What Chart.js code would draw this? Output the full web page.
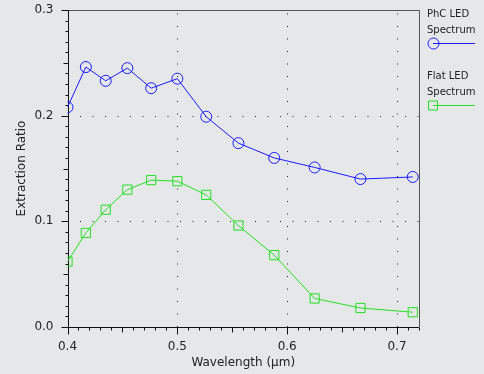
<!DOCTYPE html>
<html>
<head>
<meta charset="utf-8">
<script src="https://cdn.jsdelivr.net/npm/chart.js@4/dist/chart.umd.min.js"></script>
<style>
  html, body { margin: 0; padding: 0; background: #e6e7e9; }
  #wrap { width: 484px; height: 374px; }
</style>
</head>
<body>
<div id="wrap"><canvas id="chart" width="484" height="374"></canvas></div>
<script>
// wavelengths (um)
const wavelengths = [0.4, 0.4167, 0.4348, 0.4545, 0.4762, 0.5, 0.5263, 0.5556, 0.5882, 0.625, 0.6667, 0.7143];
const phcRatio  = [0.208, 0.246, 0.233, 0.245, 0.226, 0.235, 0.199, 0.174, 0.160, 0.151, 0.140, 0.142];
const flatRatio = [0.062, 0.089, 0.111, 0.130, 0.139, 0.138, 0.125, 0.096, 0.068, 0.027, 0.018, 0.014];
const seriesLabels = [["PhC LED", "Spectrum"], ["Flat LED", "Spectrum"]];
const xTicks = [0.4, 0.5, 0.6, 0.7];
const yTicks = [0.0, 0.1, 0.2, 0.3];

const BLUE = "#1a1aff";
const GREEN = "#22e022";
const FONT = "DejaVu Sans";

function toPoints(ys) {
  return wavelengths.map((x, i) => ({ x: x, y: ys[i] }));
}

// frame, ticks and dotted grid
const framePlugin = {
  id: "frame",
  beforeDatasetsDraw(chart) {
    const { ctx, chartArea: a, scales: { x, y } } = chart;
    ctx.save();
    // dotted grid
    ctx.strokeStyle = "#222";
    ctx.lineWidth = 1;
    ctx.setLineDash([1, 11.5]);
    xTicks.slice(1).forEach(v => {
      const px = Math.round(x.getPixelForValue(v)) + 0.5;
      ctx.beginPath(); ctx.moveTo(px, a.bottom); ctx.lineTo(px, a.top); ctx.stroke();
    });
    yTicks.slice(1, -1).forEach(v => {
      const py = Math.round(y.getPixelForValue(v)) + 0.5;
      ctx.beginPath(); ctx.moveTo(a.left, py); ctx.lineTo(a.right, py); ctx.stroke();
    });
    ctx.setLineDash([]);

    // top / right border
    ctx.strokeStyle = "#555";
    ctx.beginPath();
    ctx.moveTo(a.left, a.top + 0.5); ctx.lineTo(a.right + 0.5, a.top + 0.5); ctx.lineTo(a.right + 0.5, a.bottom);
    ctx.stroke();

    // axes
    ctx.strokeStyle = "#111";
    const lx = Math.round(a.left) + 0.5, by = Math.round(a.bottom) + 0.5;
    ctx.beginPath();
    ctx.moveTo(lx, a.top); ctx.lineTo(lx, by); ctx.lineTo(a.right, by);
    ctx.stroke();

    // tick marks every 0.01
    ctx.beginPath();
    for (let i = 40; i <= 72; i++) {
      const px = Math.round(x.getPixelForValue(i / 100)) + 0.5;
      const len = i % 10 === 0 ? 7 : (i % 5 === 0 ? 5 : 3);
      ctx.moveTo(px, by); ctx.lineTo(px, by + len);
    }
    for (let i = 0; i <= 30; i++) {
      const py = Math.round(y.getPixelForValue(i / 100)) + 0.5;
      const len = i % 10 === 0 ? 7 : (i % 5 === 0 ? 5 : 3);
      ctx.moveTo(lx, py); ctx.lineTo(lx - len, py);
    }
    ctx.stroke();
    ctx.restore();
  },
  afterDraw(chart) {
    // legend at the right
    const { ctx } = chart;
    ctx.save();
    ctx.font = "10px '" + FONT + "'";
    ctx.fillStyle = "#222";
    ctx.textBaseline = "middle";
    chart.data.datasets.forEach((ds, i) => {
      const top = 14 + i * 62;
      seriesLabels[i].forEach((t, j) => ctx.fillText(t, 427, top + j * 16));
      const my = top + 29.5;
      ctx.strokeStyle = ds.borderColor;
      ctx.lineWidth = 1;
      ctx.beginPath(); ctx.moveTo(433, my); ctx.lineTo(475, my); ctx.stroke();
      ctx.beginPath();
      if (ds.pointStyle === "circle") ctx.arc(433.5, my, 5.5, 0, Math.PI * 2);
      else ctx.rect(428.5, my - 4.5, 9, 9);
      ctx.stroke();
    });
    ctx.restore();
  }
};

function noPad(s) {
  s.paddingTop = 0; s.paddingBottom = 0; s.paddingLeft = 0; s.paddingRight = 0;
}

new Chart(document.getElementById("chart"), {
  type: "scatter",
  data: {
    datasets: [
      {
        label: "PhC LED Spectrum",
        data: toPoints(phcRatio),
        showLine: true,
        borderColor: BLUE,
        borderWidth: 1,
        pointStyle: "circle",
        pointRadius: 5.5,
        pointBorderWidth: 1,
        pointBackgroundColor: "rgba(0,0,0,0)",
        pointBorderColor: BLUE
      },
      {
        label: "Flat LED Spectrum",
        data: toPoints(flatRatio),
        showLine: true,
        borderColor: GREEN,
        borderWidth: 1,
        pointStyle: "rect",
        pointRadius: 6.5,
        pointBorderWidth: 1,
        pointBackgroundColor: "rgba(0,0,0,0)",
        pointBorderColor: GREEN
      }
    ]
  },
  options: {
    responsive: false,
    animation: false,
    layout: { padding: { top: 10, right: 65, left: 11, bottom: 0 } },
    plugins: { legend: { display: false }, tooltip: { enabled: false } },
    scales: {
      x: {
        type: "linear",
        min: 0.4,
        max: 0.72,
        afterBuildTicks: s => { s.ticks = xTicks.map(v => ({ value: v })); },
        afterFit: s => { s.height = 47; noPad(s); },
        grid: { display: false },
        border: { display: false },
        ticks: {
          padding: 5,
          color: "#222",
          font: { family: FONT, size: 12 },
          callback: v => v.toFixed(1),
          maxRotation: 0
        },
        title: {
          display: true,
          text: "Wavelength (\u00b5m)",
          color: "#222",
          font: { family: FONT, size: 12 },
          padding: { top: 4 }
        }
      },
      y: {
        min: 0,
        max: 0.3,
        afterBuildTicks: s => { s.ticks = yTicks.map(v => ({ value: v })); },
        afterFit: s => { s.width = 56.5; noPad(s); },
        grid: { display: false },
        border: { display: false },
        ticks: {
          padding: 6,
          color: "#222",
          font: { family: FONT, size: 12 },
          callback: v => v.toFixed(1)
        },
        title: {
          display: true,
          text: "Extraction Ratio",
          color: "#222",
          font: { family: FONT, size: 12 },
          padding: { bottom: 6 }
        }
      }
    }
  },
  plugins: [framePlugin]
});
</script>
</body>
</html>
